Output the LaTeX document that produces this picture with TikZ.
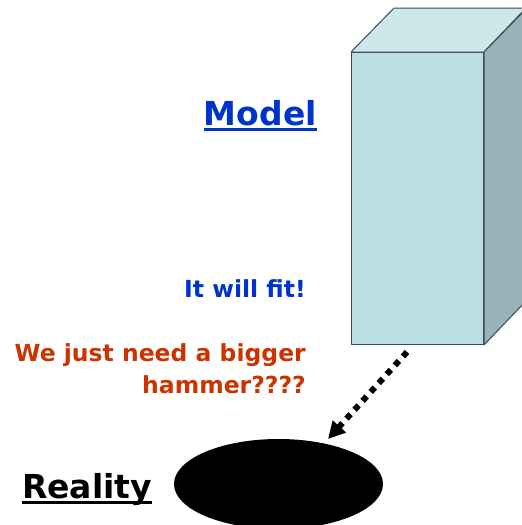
\documentclass[tikz,border=0pt]{standalone}
\usepackage{fontspec}
\setsansfont{DejaVu Sans}
\usetikzlibrary{arrows.meta,shapes.geometric}
\definecolor{mdlblue}{RGB}{0,51,204}
\definecolor{hmrorange}{RGB}{204,51,0}
\definecolor{boxfront}{RGB}{186,223,226}
\definecolor{boxtop}{RGB}{204,232,234}
\definecolor{boxside}{RGB}{151,179,183}
\definecolor{boxedge}{RGB}{60,75,78}
\tikzset{
  bigtxt/.style={font=\sffamily\bfseries\fontsize{33}{40}\selectfont, inner sep=0pt},
  smalltxt/.style={font=\sffamily\bfseries\fontsize{23.5}{32}\selectfont, inner sep=0pt, align=right},
  uline/.style={line width=3pt},
  face/.style={draw=boxedge, line width=1pt, line join=round},
  dotarr/.style={line width=6pt, dash pattern=on 6pt off 6pt,
                 -{Triangle[length=17pt,width=17pt]}},
}
\begin{document}
\begin{tikzpicture}[x=1pt,y=-1pt]
  \clip (0,0) rectangle (522,525);
  \fill[white] (0,0) rectangle (522,525);
  % the box
  \node[face, fill=boxfront, minimum width=132pt, minimum height=292pt, inner sep=0pt,
        anchor=north west] (front) at (351,52) {};
  \filldraw[face, fill=boxtop] (front.north west) -- ++(43,-44) -- ++(132,0)
     -- (front.north east) -- cycle;
  \filldraw[face, fill=boxside] (front.north east) -- ++(43,-44) -- ++(0,292)
     -- (front.south east) -- cycle;
  % the hole
  \node[ellipse, fill=black, minimum width=209pt, minimum height=90pt, inner sep=0pt] (hole) at (278.5,484) {};
  % labels
  \node[bigtxt, text=mdlblue, anchor=base east] (model) at (317,125) {Model};
  \draw[uline, mdlblue] ([yshift=-4pt]model.base west) -- ([yshift=-4pt]model.base east);
  \node[smalltxt, text=mdlblue, anchor=base east] (fit) at (306,297) {It will fit!};
  \node[smalltxt, text=hmrorange, anchor=base east] (hammer) at (306,393) {We just need a bigger\\hammer????};
  \node[bigtxt, anchor=base west] (reality) at (22,498) {Reality};
  \draw[uline] ([yshift=-4.5pt]reality.base west) -- ([yshift=-4.5pt]reality.base east);
  % dotted arrow
  \coordinate (from) at (407,352);
  \coordinate (to) at (328,439);
  \draw[dotarr] (from) -- (to);
\end{tikzpicture}
\end{document}
